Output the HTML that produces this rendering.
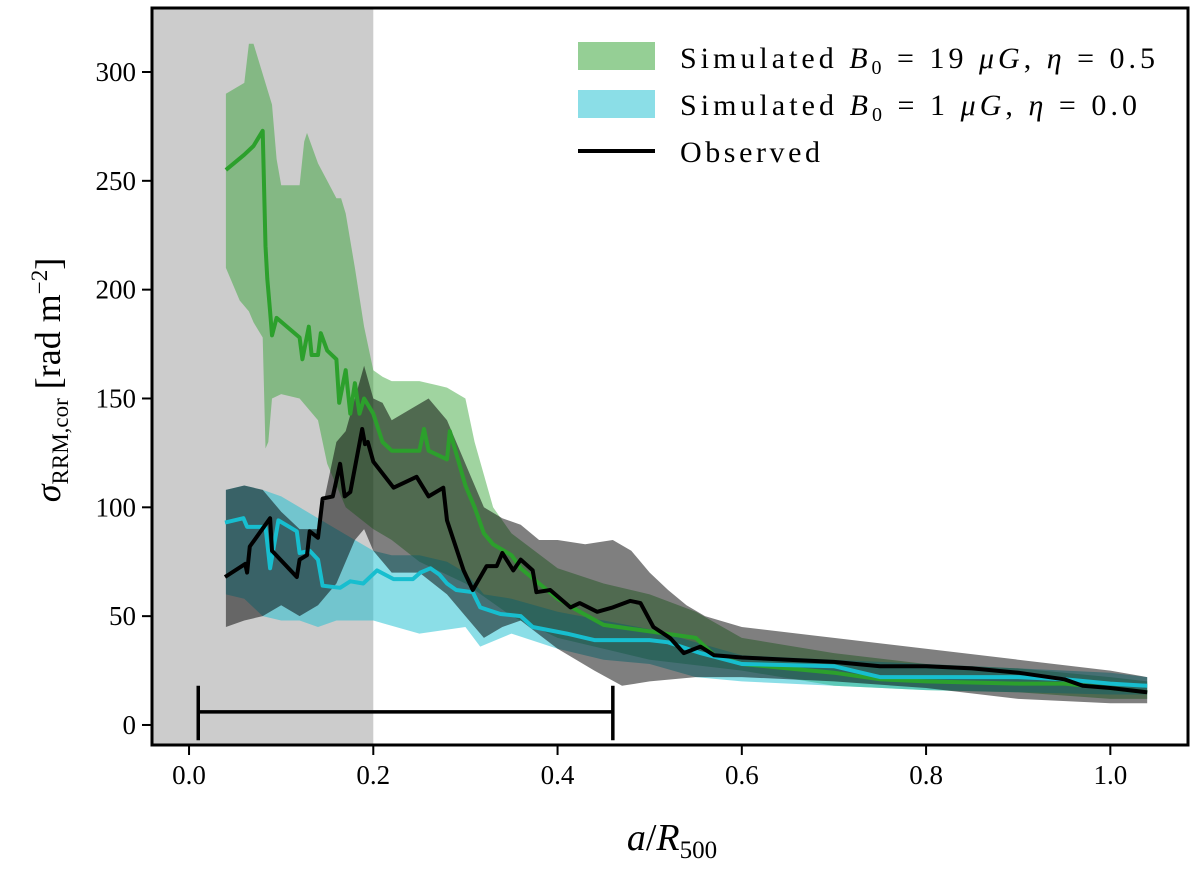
<!DOCTYPE html>
<html><head><meta charset="utf-8"><style>
body{margin:0;background:#fff}
svg text{font-family:"Liberation Serif","DejaVu Serif",serif;fill:#000}
</style></head><body>
<svg id="chart" width="1200" height="871" xmlns="http://www.w3.org/2000/svg">
<g id="plot"></g>
<g id="axes"></g>
<g>
 <rect x="578" y="42" width="77" height="28" fill="#2ca02c" fill-opacity="0.5"/>
 <text x="680" y="68" font-size="30" textLength="475" lengthAdjust="spacing">Simulated <tspan font-style="italic">B</tspan><tspan font-size="20" dy="6">0</tspan><tspan dy="-6"> = 19 </tspan><tspan font-style="italic">μG</tspan>, <tspan font-style="italic">η</tspan> = 0.5</text>
 <rect x="578" y="90" width="77" height="28" fill="#17becf" fill-opacity="0.5"/>
 <text x="680" y="115" font-size="30" textLength="457" lengthAdjust="spacing">Simulated <tspan font-style="italic">B</tspan><tspan font-size="20" dy="6">0</tspan><tspan dy="-6"> = 1 </tspan><tspan font-style="italic">μG</tspan>, <tspan font-style="italic">η</tspan> = 0.0</text>
 <line x1="578" y1="151" x2="655" y2="151" stroke="#000" stroke-width="4"/>
 <text x="680" y="162" font-size="30" textLength="140" lengthAdjust="spacing">Observed</text>
</g>
<text x="672" y="850" font-size="38" text-anchor="middle"><tspan font-style="italic">a</tspan>/<tspan font-style="italic">R</tspan><tspan font-size="25" dy="8">500</tspan></text>
<text transform="translate(60,380) rotate(-90)" font-size="36" text-anchor="middle"><tspan font-style="italic">σ</tspan><tspan font-size="23" dy="8">RRM,cor</tspan><tspan dy="-8"> [rad m</tspan><tspan font-size="23" dy="-13">−2</tspan><tspan dy="13">]</tspan></text>
</svg>
<script>
const xTicks=[0,0.2,0.4,0.6,0.8,1.0];
const xTickLabels=["0.0","0.2","0.4","0.6","0.8","1.0"];
const yTicks=[0,50,100,150,200,250,300];
const yTickLabels=["0","50","100","150","200","250","300"];
const shadeRange=[-0.04,0.2];
const errBar={x0:0.01,x1:0.46,y:6,capLo:-7,capHi:18};

const greenX=[0.04,0.06,0.07,0.08,0.083,0.085,0.088,0.09,0.095,0.12,0.123,0.13,0.133,0.14,0.143,0.15,0.16,0.163,0.17,0.175,0.18,0.185,0.19,0.2,0.21,0.22,0.25,0.255,0.26,0.28,0.283,0.3,0.31,0.32,0.33,0.35,0.36,0.38,0.4,0.42,0.45,0.5,0.55,0.57,0.6,0.65,0.7,0.75,0.8,0.9,0.95,1.0,1.04];
const greenY=[255,262,266,273,220,205,190,179,187,178,168,183,170,170,180,172,168,148,163,143,157,143,150,143,130,126,126,136,126,122,135,110,100,88,83,78,72,65,58,53,46,43,40,32,28,26,24,21,20,19,19,17,15];
const greenUpX=[0.04,0.06,0.065,0.07,0.09,0.095,0.1,0.12,0.125,0.128,0.14,0.15,0.16,0.165,0.17,0.18,0.19,0.2,0.21,0.22,0.25,0.27,0.28,0.3,0.31,0.33,0.35,0.4,0.45,0.5,0.55,0.6,0.7,0.8,0.9,1.0,1.04];
const greenUp=[290,295,313,313,285,260,248,248,268,272,258,250,242,242,235,210,183,163,160,158,158,156,155,150,130,100,88,72,65,60,52,40,33,28,26,22,20];
const greenLoX=[0.04,0.055,0.065,0.07,0.08,0.083,0.086,0.09,0.1,0.12,0.13,0.14,0.15,0.17,0.2,0.22,0.25,0.3,0.35,0.4,0.45,0.5,0.6,0.7,0.8,0.9,1.0,1.04];
const greenLo=[210,195,190,185,178,127,130,150,152,150,145,140,120,100,90,85,75,65,50,40,35,30,25,18,16,15,12,12];

const cyanX=[0.039,0.059,0.063,0.083,0.088,0.097,0.117,0.12,0.131,0.14,0.145,0.164,0.175,0.189,0.204,0.222,0.243,0.251,0.262,0.272,0.28,0.29,0.308,0.316,0.338,0.36,0.373,0.41,0.44,0.5,0.52,0.555,0.6,0.7,0.75,0.8,0.9,0.95,1.0,1.04];
const cyanY=[93,95,91,91,72,94,89,79,80,76,64,63,66,65,71,67,67,70,72,69,65,62,61,54,51,50,45,42,39,39,38,33,28,27,22,22,22,21,19,18];
const cyanUpX=[0.04,0.06,0.08,0.1,0.12,0.14,0.16,0.18,0.2,0.22,0.25,0.28,0.3,0.32,0.35,0.4,0.45,0.5,0.55,0.6,0.7,0.8,0.9,1.0,1.04];
const cyanUp=[108,110,108,105,100,95,90,85,80,78,78,75,70,60,58,52,48,44,38,32,30,28,26,24,22];
const cyanLoX=[0.04,0.06,0.08,0.1,0.12,0.14,0.16,0.2,0.25,0.3,0.316,0.35,0.4,0.45,0.5,0.55,0.6,0.7,0.8,0.9,1.0,1.04];
const cyanLo=[60,58,50,48,48,45,48,48,42,45,36,42,35,30,28,22,20,18,16,15,14,14];

const obsX=[0.039,0.061,0.063,0.066,0.088,0.09,0.117,0.12,0.128,0.131,0.14,0.145,0.156,0.164,0.169,0.175,0.188,0.191,0.194,0.2,0.222,0.247,0.26,0.276,0.28,0.298,0.308,0.323,0.334,0.34,0.352,0.36,0.373,0.377,0.392,0.414,0.424,0.443,0.46,0.479,0.49,0.504,0.522,0.537,0.555,0.57,0.6,0.65,0.7,0.75,0.8,0.85,0.9,0.95,0.97,1.0,1.04];
const obsY=[68,74,70,82,95,80,68,76,78,89,86,104,105,120,105,107,136,129,130,121,109,114,105,109,94,71,62,73,73,79,71,76,71,61,62,54,56,52,54,57,56,45,40,33,36,32,31,30,29,27,27,26,24,21,18,17,15];
const obsUpX=[0.04,0.06,0.08,0.1,0.12,0.14,0.15,0.16,0.17,0.18,0.19,0.2,0.21,0.22,0.24,0.26,0.28,0.3,0.32,0.34,0.36,0.38,0.4,0.43,0.46,0.48,0.5,0.52,0.54,0.56,0.6,0.7,0.8,0.9,1.0,1.04];
const obsUp=[108,110,108,98,90,90,110,130,135,150,165,150,148,140,145,150,140,120,100,95,92,85,85,83,85,80,70,62,55,50,45,40,35,30,25,22];
const obsLoX=[0.04,0.06,0.08,0.1,0.12,0.14,0.16,0.18,0.19,0.2,0.22,0.25,0.28,0.3,0.32,0.34,0.36,0.4,0.44,0.47,0.5,0.55,0.6,0.7,0.8,0.9,1.0,1.04];
const obsLo=[45,48,50,55,50,55,65,85,90,80,70,70,60,50,40,45,48,35,25,18,20,22,22,20,17,12,10,10];

const L=152,R=1188,T=8,B=745;
const x0=-0.0402,x1=1.0843,y0=-9.2,y1=329.4;
const sx=v=>L+(v-x0)/(x1-x0)*(R-L);
const sy=v=>B-(v-y0)/(y1-y0)*(B-T);
const NS="http://www.w3.org/2000/svg";
const plot=document.getElementById('plot'),axes=document.getElementById('axes');
function mk(tag,attrs,parent){const e=document.createElementNS(NS,tag);for(const k in attrs)e.setAttribute(k,attrs[k]);parent.appendChild(e);return e;}

const cp=mk('clipPath',{id:'clip'},plot);mk('rect',{x:L,y:T,width:R-L,height:B-T},cp);
const g=mk('g',{'clip-path':'url(#clip)'},plot);

const shade=mk('rect',{x:sx(shadeRange[0]),y:T,width:sx(shadeRange[1])-sx(shadeRange[0]),height:B-T,fill:'#cccccc'},g);



function band(ux,u,lx,l,col,op,name){
 let d='M'+ux.map((x,i)=>sx(x).toFixed(1)+','+sy(u[i]).toFixed(1)).join('L');
 for(let i=lx.length-1;i>=0;i--)d+='L'+sx(lx[i]).toFixed(1)+','+sy(l[i]).toFixed(1);
 const p=mk('path',{d:d+'Z',fill:col,'fill-opacity':op,stroke:'none'},g);
 
 
}
function line(xs,ys,col,name){
 const p=mk('path',{d:'M'+xs.map((x,i)=>sx(x).toFixed(1)+','+sy(ys[i]).toFixed(1)).join('L'),fill:'none',stroke:col,'stroke-width':4,'stroke-linejoin':'round'},g);
 
 
}
band(greenUpX,greenUp,greenLoX,greenLo,'#2ca02c',0.45,'green-band');
band(cyanUpX,cyanUp,cyanLoX,cyanLo,'#17becf',0.5,'cyan-band');
band(obsUpX,obsUp,obsLoX,obsLo,'#000',0.5,'observed-band');
line(greenX,greenY,'#2ca02c','green-line');
line(cyanX,cyanY,'#17becf','cyan-line');
line(obsX,obsY,'#000','observed-line');

const eb=mk('path',{d:`M${sx(errBar.x0)},${sy(errBar.y)}H${sx(errBar.x1)}M${sx(errBar.x0)},${sy(errBar.capLo)}V${sy(errBar.capHi)}M${sx(errBar.x1)},${sy(errBar.capLo)}V${sy(errBar.capHi)}`,stroke:'#000','stroke-width':3.5,fill:'none'},plot);



xTicks.forEach((v,i)=>{
 const t=mk('line',{x1:sx(v),x2:sx(v),y1:B,y2:B+10,stroke:'#000','stroke-width':2},axes);
 
 
 const tx=mk('text',{x:sx(v),y:B+39,'font-size':27,'text-anchor':'middle'},axes);tx.textContent=xTickLabels[i];
 
 
});
yTicks.forEach((v,i)=>{
 const t=mk('line',{x1:L-10,x2:L,y1:sy(v),y2:sy(v),stroke:'#000','stroke-width':2},axes);
 
 
 const tx=mk('text',{x:L-16,y:sy(v)+9,'font-size':27,'text-anchor':'end'},axes);tx.textContent=yTickLabels[i];
 
 
});
const fr=mk('rect',{x:L,y:T,width:R-L,height:B-T,fill:'none',stroke:'#000','stroke-width':3},axes);


</script>
</body></html>
